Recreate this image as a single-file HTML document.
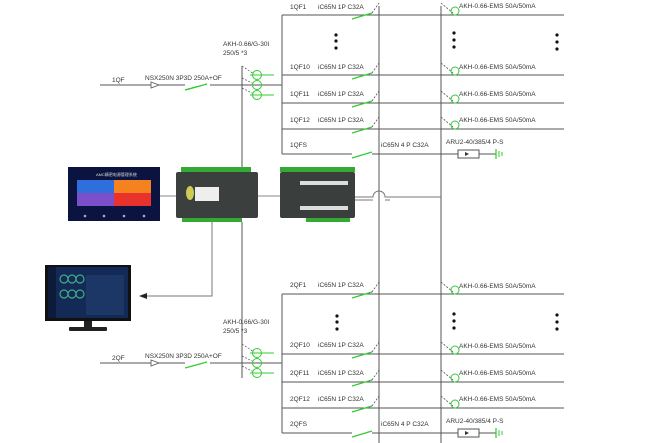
<!DOCTYPE html>
<html><head><meta charset="utf-8"><style>
html,body{margin:0;padding:0;background:#fff;}
svg{display:block}
text{font-family:"Liberation Sans","Noto Sans CJK SC",sans-serif;font-size:6.5px;fill:#333;}
</style></head><body>
<svg width="666" height="443" viewBox="0 0 666 443" xmlns="http://www.w3.org/2000/svg">
<defs>
<g id="br">
  <line x1="0" y1="0" x2="282" y2="0" stroke="#555" stroke-width="1"/>
  <line x1="70" y1="4" x2="90" y2="-2" stroke="#3c3" stroke-width="1.2"/>
  <line x1="90" y1="-2" x2="97" y2="-12" stroke="#555" stroke-width="0.8" stroke-dasharray="2,1.5"/>
  <line x1="159" y1="-12" x2="171" y2="-2" stroke="#555" stroke-width="0.8" stroke-dasharray="2,1.5"/>
  <circle cx="173" cy="-4" r="4" fill="none" stroke="#3c3" stroke-width="1"/>
</g>
<g id="ct">
  <line x1="0" y1="-10" x2="12" y2="-2" stroke="#555" stroke-width="0.7" stroke-dasharray="2,1.5"/>
  <line x1="0" y1="2" x2="12" y2="8" stroke="#555" stroke-width="0.7" stroke-dasharray="2,1.5"/>
  <line x1="0" y1="12" x2="12" y2="18" stroke="#555" stroke-width="0.7" stroke-dasharray="2,1.5"/>
  <circle cx="15" cy="-1" r="4.5" fill="none" stroke="#3c3"/>
  <circle cx="15" cy="9" r="4.5" fill="none" stroke="#3c3"/>
  <circle cx="15" cy="19" r="4.5" fill="none" stroke="#3c3"/>
  <line x1="8" y1="-1" x2="32" y2="-1" stroke="#3c3"/>
  <line x1="8" y1="19" x2="32" y2="19" stroke="#3c3"/>
</g>
</defs>

<!-- verticals -->
<line x1="379" y1="6" x2="379" y2="443" stroke="#555"/>
<line x1="441" y1="6" x2="441" y2="443" stroke="#555"/>

<!-- TOP SECTION -->
<line x1="282" y1="15" x2="282" y2="154" stroke="#555"/>
<use href="#br" x="282" y="15"/>
<use href="#br" x="282" y="75"/>
<use href="#br" x="282" y="103"/>
<use href="#br" x="282" y="129"/>
<line x1="282" y1="154" x2="352" y2="154" stroke="#555"/>
<line x1="352" y1="158" x2="372" y2="152" stroke="#3c3" stroke-width="1.2"/>
<line x1="372" y1="154" x2="458" y2="154" stroke="#555"/>
<rect x="458" y="150" width="21" height="8" fill="#fff" stroke="#555"/>
<polygon points="465,152 469,154 465,156" fill="#333"/>
<line x1="479" y1="154" x2="496" y2="154" stroke="#555"/>
<line x1="496" y1="149" x2="496" y2="159" stroke="#3c3" stroke-width="1.2"/>
<line x1="499" y1="151" x2="499" y2="157" stroke="#3c3"/>
<line x1="502" y1="152" x2="502" y2="156" stroke="#3c3"/>
<text x="290" y="9">1QF1</text><text x="318" y="9">iC65N 1P  C32A</text>
<text x="290" y="69">1QF10</text><text x="318" y="69">iC65N 1P  C32A</text>
<text x="290" y="96">1QF11</text><text x="318" y="96">iC65N 1P  C32A</text>
<text x="290" y="122">1QF12</text><text x="318" y="122">iC65N 1P  C32A</text>
<text x="290" y="147">1QFS</text><text x="381" y="147">iC65N 4 P  C32A</text>
<text x="459" y="8">AKH-0.66-EMS 50A/50mA</text>
<text x="459" y="69">AKH-0.66-EMS 50A/50mA</text>
<text x="459" y="96">AKH-0.66-EMS 50A/50mA</text>
<text x="459" y="122">AKH-0.66-EMS 50A/50mA</text>
<text x="446" y="144">ARU2-40/385/4 P-S</text>
<g fill="#111"><circle cx="336" cy="35" r="1.6"/><circle cx="336" cy="41" r="1.6"/><circle cx="336" cy="48" r="1.6"/>
<circle cx="454" cy="33" r="1.6"/><circle cx="454" cy="40" r="1.6"/><circle cx="454" cy="47" r="1.6"/>
<circle cx="557" cy="35" r="1.6"/><circle cx="557" cy="42" r="1.6"/><circle cx="557" cy="49" r="1.6"/></g>
<!-- feed 1 -->
<line x1="100" y1="85" x2="282" y2="85" stroke="#555"/>
<polygon points="151,82 159,85 151,88" fill="#fff" stroke="#555" stroke-width="0.8"/>
<line x1="185" y1="90" x2="207" y2="84" stroke="#3c3" stroke-width="1.2"/>
<line x1="185" y1="85" x2="210" y2="85" stroke="#fff" stroke-width="2"/>
<line x1="185" y1="90" x2="207" y2="84" stroke="#3c3" stroke-width="1.2"/>
<line x1="242" y1="66" x2="242" y2="167" stroke="#555"/>
<use href="#ct" x="242" y="76"/>
<text x="112" y="82">1QF</text>
<text x="145" y="80">NSX250N 3P3D 250A+OF</text>
<text x="223" y="46">AKH-0.66/G-30I</text>
<text x="223" y="55">250/5  *3</text>

<!-- BOTTOM SECTION -->
<line x1="282" y1="294" x2="282" y2="433" stroke="#555"/>
<use href="#br" x="282" y="294"/>
<use href="#br" x="282" y="354"/>
<use href="#br" x="282" y="382"/>
<use href="#br" x="282" y="408"/>
<line x1="282" y1="433" x2="352" y2="433" stroke="#555"/>
<line x1="352" y1="437" x2="372" y2="431" stroke="#3c3" stroke-width="1.2"/>
<line x1="372" y1="433" x2="458" y2="433" stroke="#555"/>
<rect x="458" y="429" width="21" height="8" fill="#fff" stroke="#555"/>
<polygon points="465,431 469,433 465,435" fill="#333"/>
<line x1="479" y1="433" x2="496" y2="433" stroke="#555"/>
<line x1="496" y1="428" x2="496" y2="438" stroke="#3c3" stroke-width="1.2"/>
<line x1="499" y1="430" x2="499" y2="436" stroke="#3c3"/>
<line x1="502" y1="431" x2="502" y2="435" stroke="#3c3"/>
<text x="290" y="287">2QF1</text><text x="318" y="287">iC65N 1P  C32A</text>
<text x="290" y="347">2QF10</text><text x="318" y="347">iC65N 1P  C32A</text>
<text x="290" y="375">2QF11</text><text x="318" y="375">iC65N 1P  C32A</text>
<text x="290" y="401">2QF12</text><text x="318" y="401">iC65N 1P  C32A</text>
<text x="290" y="426">2QFS</text><text x="381" y="426">iC65N 4 P  C32A</text>
<text x="459" y="288">AKH-0.66-EMS 50A/50mA</text>
<text x="459" y="348">AKH-0.66-EMS 50A/50mA</text>
<text x="459" y="375">AKH-0.66-EMS 50A/50mA</text>
<text x="459" y="401">AKH-0.66-EMS 50A/50mA</text>
<text x="446" y="423">ARU2-40/385/4 P-S</text>
<g fill="#111"><circle cx="337" cy="316" r="1.6"/><circle cx="337" cy="322" r="1.6"/><circle cx="337" cy="329" r="1.6"/>
<circle cx="454" cy="314" r="1.6"/><circle cx="454" cy="321" r="1.6"/><circle cx="454" cy="328" r="1.6"/>
<circle cx="557" cy="315" r="1.6"/><circle cx="557" cy="322" r="1.6"/><circle cx="557" cy="329" r="1.6"/></g>
<!-- feed 2 -->
<line x1="100" y1="363" x2="282" y2="363" stroke="#555"/>
<polygon points="151,360 159,363 151,366" fill="#fff" stroke="#555" stroke-width="0.8"/>
<line x1="185" y1="363" x2="210" y2="363" stroke="#fff" stroke-width="2"/>
<line x1="185" y1="368" x2="207" y2="362" stroke="#3c3" stroke-width="1.2"/>
<line x1="242" y1="222" x2="242" y2="378" stroke="#555"/>
<use href="#ct" x="242" y="354"/>
<text x="112" y="360">2QF</text>
<text x="145" y="358">NSX250N 3P3D 250A+OF</text>
<text x="223" y="324">AKH-0.66/G-30I</text>
<text x="223" y="333">250/5  *3</text>

<!-- comms lines -->
<line x1="160" y1="196" x2="176" y2="196" stroke="#888"/>
<line x1="258" y1="196" x2="280" y2="196" stroke="#888"/>
<path d="M355,197 H373 A6,6 0 0 1 385,197 H441" fill="none" stroke="#777"/>
<path d="M355,200 H373 M385,200 H390" fill="none" stroke="#777"/>
<path d="M212,222 V296 H145" fill="none" stroke="#777"/>
<polygon points="139,296 147,293 147,299" fill="#222"/>

<!-- touchscreen -->
<rect x="68" y="167" width="92" height="54" fill="#0b1440"/>
<text x="96" y="176" style="font-size:4px;fill:#ddd">AMC精密电源管理系统</text>
<rect x="77" y="180" width="37" height="13" fill="#2f6fdd"/>
<rect x="114" y="180" width="37" height="13" fill="#f5821f"/>
<rect x="77" y="193" width="37" height="13" fill="#7a4fc9"/>
<rect x="114" y="193" width="37" height="13" fill="#e8322b"/>
<g fill="#aab"><circle cx="85" cy="216" r="1.3"/><circle cx="104" cy="216" r="1.3"/><circle cx="124" cy="216" r="1.3"/><circle cx="144" cy="216" r="1.3"/></g>

<!-- controller 1 -->
<rect x="181" y="167" width="70" height="5" fill="#3a3"/>
<rect x="176" y="172" width="82" height="46" rx="2" fill="#3b3f3d"/>
<rect x="195" y="187" width="24" height="14" fill="#eee"/>
<ellipse cx="190" cy="193" rx="4" ry="7" fill="#cc5"/>
<rect x="182" y="218" width="60" height="4" fill="#3a3"/>
<!-- controller 2 -->
<rect x="280" y="167" width="75" height="5" fill="#3a3"/>
<rect x="280" y="172" width="75" height="46" rx="2" fill="#3a3e3c"/>
<rect x="300" y="181" width="48" height="4" fill="#ddd"/>
<rect x="300" y="206" width="48" height="4" fill="#ddd"/>
<rect x="306" y="218" width="44" height="4" fill="#3a3"/>

<!-- monitor -->
<rect x="45" y="265" width="86" height="56" fill="#111"/>
<rect x="48" y="267" width="80" height="51" fill="#122a55"/>
<rect x="48" y="267" width="8" height="51" fill="#0d1a3a"/>
<g fill="none" stroke="#4a8" stroke-width="1.2"><circle cx="64" cy="279" r="4"/><circle cx="72" cy="279" r="4"/><circle cx="80" cy="279" r="4"/><circle cx="64" cy="294" r="4"/><circle cx="72" cy="294" r="4"/><circle cx="80" cy="294" r="4"/></g>
<rect x="86" y="275" width="38" height="40" fill="#1c3766"/>
<rect x="84" y="321" width="8" height="6" fill="#222"/>
<rect x="69" y="327" width="38" height="4" rx="1" fill="#222"/>
</svg>
</body></html>
